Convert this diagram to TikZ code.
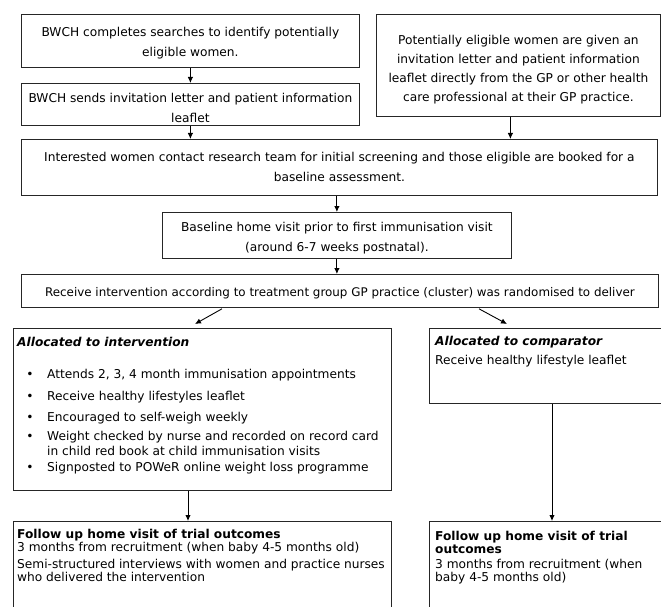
\documentclass[tikz,border=0pt]{standalone}
\usepackage{fontspec}
\setmainfont{DejaVu Sans}
\usetikzlibrary{arrows.meta}
\begin{document}
\begin{tikzpicture}[x=1pt,y=-1pt,
  box/.style={draw=black!85, line width=0.8pt, inner sep=0pt, anchor=north west},
  arr/.style={-{Latex[length=6pt,width=5.5pt]}, line width=0.9pt, draw=black},
  ctext/.style={font=\fontsize{12.2}{20}\selectfont, inner sep=0pt, align=center},
  ltext/.style={font=\fontsize{12.2}{13}\selectfont, inner sep=0pt, align=left, anchor=west, text height=9pt, text depth=2.5pt},
  head/.style={font=\fontsize{12.2}{13}\selectfont\bfseries\itshape, inner sep=0pt, anchor=west, text height=9pt, text depth=2.5pt},
  bhead/.style={font=\fontsize{12.2}{13}\selectfont\bfseries, inner sep=0pt, anchor=west, text height=9pt, text depth=2.5pt},
  dot/.style={font=\fontsize{12.2}{13}\selectfont, inner sep=0pt, text height=9pt, text depth=2.5pt}]
\useasboundingbox (0,0) rectangle (661,607);
\fill[white] (0,0) rectangle (661,607);
\clip (0,0) rectangle (661,607);

% boxes
\node[box, minimum width=338pt, minimum height=53pt] (b1) at (21,14) {};
\node[box, minimum width=338pt, minimum height=42pt] (b2) at (21,83) {};
\node[box, minimum width=284pt, minimum height=102pt] (b3) at (376,14) {};
\node[box, minimum width=636pt, minimum height=56pt] (b4) at (21,139) {};
\node[box, minimum width=349pt, minimum height=46pt] (b5) at (162,212) {};
\node[box, minimum width=637pt, minimum height=33pt] (b6) at (21,274) {};
\node[box, minimum width=378pt, minimum height=162pt] (b7) at (13,328) {};
\node[box, minimum width=250pt, minimum height=75pt] (b8) at (429,328) {};
\node[box, minimum width=378pt, minimum height=100pt] (b9) at (13,521) {};
\node[box, minimum width=250pt, minimum height=100pt] (b10) at (429,521) {};

% centred texts
\node[ctext] (t1) at ([yshift=-2.5pt]b1.center) {BWCH completes searches to identify potentially\\eligible women.};
\node[ctext] (t2) at ([yshift=-3.5pt]b2.center) {BWCH sends invitation letter and patient information\\leaflet};
\node[ctext, font=\fontsize{12.2}{19}\selectfont] (t3) at ([yshift=-4pt]b3.center) {Potentially eligible women are given an\\invitation letter and patient information\\leaflet directly from the GP or other health\\care professional at their GP practice.};
\node[ctext] (t4) at (b4.center) {Interested women contact research team for initial screening and those eligible are booked for a\\baseline assessment.};
\node[ctext] (t5) at ([yshift=-3pt]b5.center) {Baseline home visit prior to first immunisation visit\\(around 6-7 weeks postnatal).};
\node[ctext, font=\fontsize{11.9}{20}\selectfont] (t6) at ([yshift=-2pt]b6.center) {Receive intervention according to treatment group GP practice (cluster) was randomised to deliver};

% intervention box
\node[head] (h7) at (17,343) {Allocated to intervention};
\node[dot] (d1) at (30,375) {•};
\node[ltext] (i1) at (47,375) {Attends 2, 3, 4 month immunisation appointments};
\node[dot] (d2) at (30,397) {•};
\node[ltext] (i2) at (47,397) {Receive healthy lifestyles leaflet};
\node[dot] (d3) at (30,418) {•};
\node[ltext] (i3) at (47,418) {Encouraged to self-weigh weekly};
\node[dot] (d4) at (30,437) {•};
\node[ltext] (i4a) at (47,437) {Weight checked by nurse and recorded on record card};
\node[ltext] (i4b) at (47,452) {in child red book at child immunisation visits};
\node[dot] (d5) at (30,468) {•};
\node[ltext] (i5) at (47,468) {Signposted to POWeR online weight loss programme};

% comparator box
\node[head] (h8) at (435,342) {Allocated to comparator};
\node[ltext] (c1) at (435,361) {Receive healthy lifestyle leaflet};

% follow-up left
\node[bhead] (h9) at (17,535) {Follow up home visit of trial outcomes};
\node[ltext] (f1) at (17,548) {3 months from recruitment (when baby 4-5 months old)};
\node[ltext] (f2a) at (17,565) {Semi-structured interviews with women and practice nurses};
\node[ltext] (f2b) at (17,578) {who delivered the intervention};

% follow-up right
\node[bhead] (h10a) at (435,537) {Follow up home visit of trial};
\node[bhead] (h10b) at (435,550) {outcomes};
\node[ltext] (f3a) at (435,565) {3 months from recruitment (when};
\node[ltext] (f3b) at (435,578) {baby 4-5 months old)};

% arrows
\draw[arr] (b1.south) -- (b2.north);
\draw[arr] (b2.south) -- (b2.south |- b4.north);
\draw[arr] ([xshift=-8pt]b3.south) -- ([xshift=-8pt]b3.south |- b4.north);
\draw[arr] (b5.north |- b4.south) -- (b5.north);
\draw[arr] (b5.south) -- (b5.south |- b6.north);
\draw[arr] ([xshift=201pt,yshift=-1pt]b6.south west) -- ([xshift=182pt,yshift=4pt]b7.north west);
\draw[arr] ([xshift=458pt,yshift=-1pt]b6.south west) -- ([xshift=78pt,yshift=4pt]b8.north west);
\draw[arr] ([xshift=175pt]b7.south west) -- ([xshift=175pt]b9.north west);
\draw[arr] ([xshift=123pt]b8.south west) -- ([xshift=123pt]b10.north west);
\end{tikzpicture}
\end{document}
